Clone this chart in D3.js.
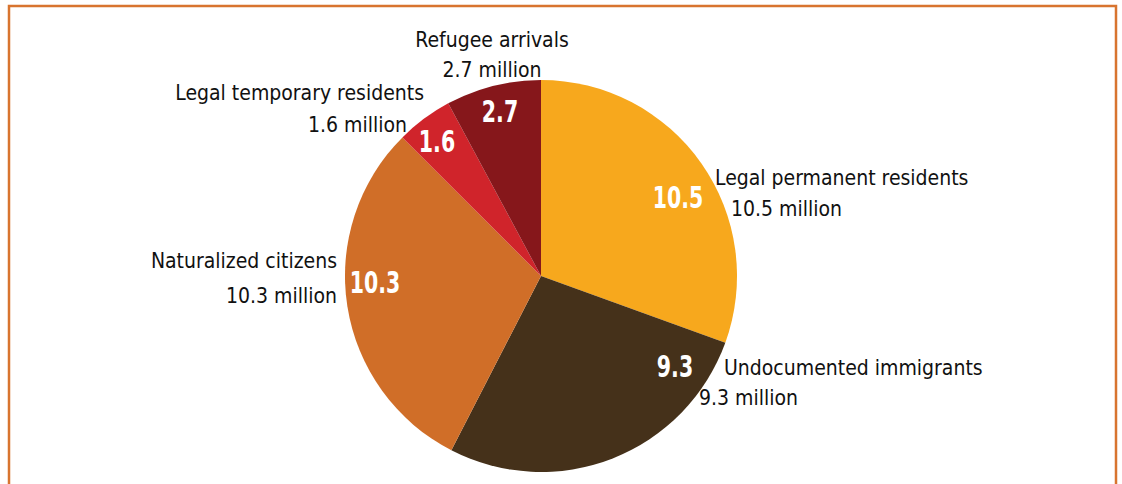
<!DOCTYPE html>
<html><head><meta charset="utf-8">
<script src="https://cdn.jsdelivr.net/npm/d3@7/dist/d3.min.js"></script>
<style>
body{margin:0;background:#fff;}
svg{display:block;}
text{font-family:"DejaVu Sans Condensed","Liberation Sans Narrow",sans-serif;}
</style></head>
<body>
<script>
const categories = ["Legal permanent residents","Undocumented immigrants","Naturalized citizens","Legal temporary residents","Refugee arrivals"];
const values = [10.5, 9.3, 10.3, 1.6, 2.7];
const colors = ["#F7A81D","#45311A","#D06E28","#D0242B","#86171B"];

// annotation layout (offsets relative to pie centre)
const bigLabelPos = [[137,-68],[134,101],[-166,17],[-104,-124],[-41,-154]];
const catLabelPos = [
  {x:174,y:-91,anchor:"start",sx:190,sy:-60,sanchor:"start"},
  {x:183,y:99,anchor:"start",sx:158,sy:129,sanchor:"start"},
  {x:-204,y:-8,anchor:"end",sx:-204,sy:27,sanchor:"end"},
  {x:-117,y:-176,anchor:"end",sx:-134,sy:-144,sanchor:"end"},
  {x:-49,y:-229,anchor:"middle",sx:-49,sy:-199,sanchor:"middle"}
];

const W=1122,H=484;
const svg=d3.select("body").append("svg").attr("width",W).attr("height",H);

// frame
svg.append("path").attr("d","M9,490 V6 H1116 V490").attr("fill","none")
  .attr("stroke","#D8742F").attr("stroke-width",2.5);

const cx=541, cy=276, r=196;
const g=svg.append("g").attr("transform",`translate(${cx},${cy})`);
const pie=d3.pie().sort(null).value(d=>d);
const arc=d3.arc().innerRadius(0).outerRadius(r);
const arcs=pie(values);
g.selectAll("path.slice").data(arcs).join("path").attr("class","slice")
  .attr("d",arc).attr("fill",(d,i)=>colors[i]);

g.selectAll("text.big").data(arcs).join("text").attr("class","big")
  .attr("transform",(d,i)=>`translate(${bigLabelPos[i][0]},${bigLabelPos[i][1]}) scale(0.76,1)`)
  .attr("text-anchor","middle").attr("fill","#fff")
  .attr("font-size",30).attr("font-weight","bold")
  .text(d=>d3.format(".1f")(d.data));

g.selectAll("text.cat").data(categories).join("text").attr("class","cat")
  .attr("x",(d,i)=>catLabelPos[i].x).attr("y",(d,i)=>catLabelPos[i].y)
  .attr("text-anchor",(d,i)=>catLabelPos[i].anchor)
  .attr("font-size",21).attr("fill","#111").text(d=>d);

g.selectAll("text.sub").data(values).join("text").attr("class","sub")
  .attr("x",(d,i)=>catLabelPos[i].sx).attr("y",(d,i)=>catLabelPos[i].sy)
  .attr("text-anchor",(d,i)=>catLabelPos[i].sanchor)
  .attr("font-size",21).attr("fill","#111").text(d=>d3.format(".1f")(d)+" million");
</script>
</body></html>
